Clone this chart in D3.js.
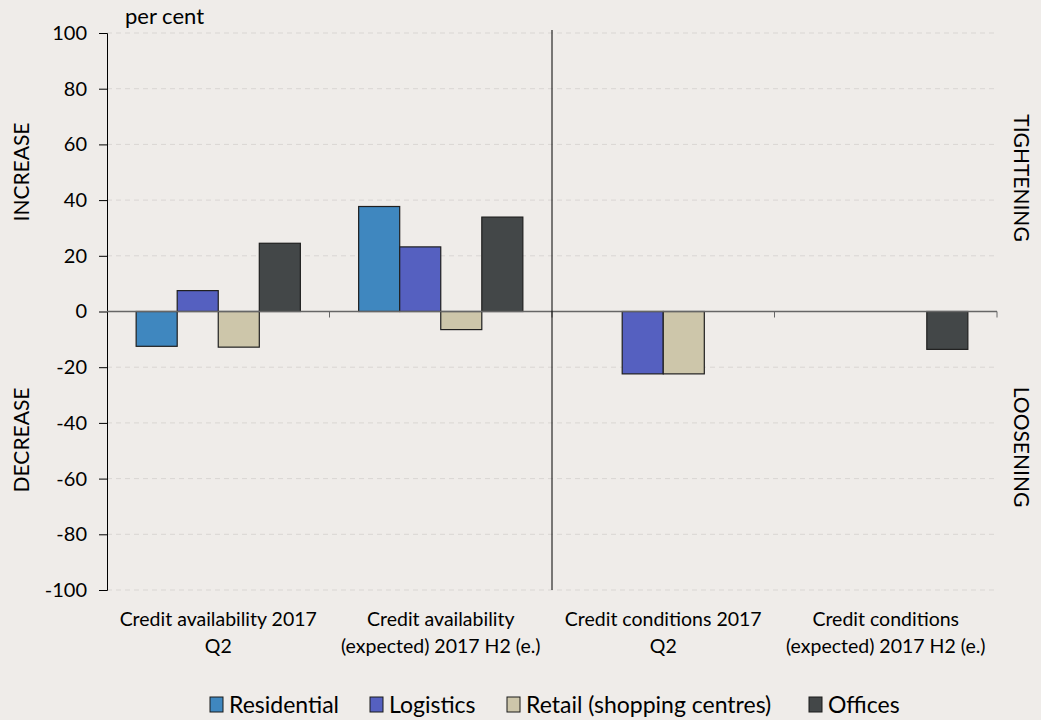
<!DOCTYPE html>
<html><head><meta charset="utf-8">
<script src="https://cdn.jsdelivr.net/npm/d3@7"></script>
<style>
body{margin:0;background:#efece9;}
svg{display:block;font-family:Lato,"Open Sans",sans-serif;}
</style></head>
<body><svg id="c" width="1041" height="720"></svg>
<script>
const categories = [["Credit availability 2017","Q2"],["Credit availability","(expected) 2017 H2 (e.)"],["Credit conditions 2017","Q2"],["Credit conditions","(expected) 2017 H2 (e.)"]];
const seriesNames = ["Residential","Logistics","Retail (shopping centres)","Offices"];
const residential = [-12.5, 37.7, 0, 0];
const logistics = [7.5, 23.2, -22.4, 0];
const retail = [-12.8, -6.5, -22.4, 0];
const offices = [24.5, 33.9, 0, -13.6];
const yTicks = [-100,-80,-60,-40,-20,0,20,40,60,80,100];
const colors = ["#3f87bf","#5560c0","#cdc6aa","#434748"];

const seriesVals = [residential, logistics, retail, offices];
const svg = d3.select("#c");
const L=107, R=997, T=33, B=590;
const y = d3.scaleLinear().domain([-100,100]).range([B,T]);
const x0 = d3.scaleBand().domain(d3.range(categories.length)).range([L,R]).paddingInner(0).paddingOuter(0);
const x1 = d3.scaleBand().domain(d3.range(seriesNames.length)).range([0,x0.bandwidth()]).paddingOuter(0.71).paddingInner(0);

// gridlines
svg.append("g").selectAll("line").data(yTicks.filter(d=>d!==0)).join("line")
  .attr("x1",L).attr("x2",R).attr("y1",d=>y(d)).attr("y2",d=>y(d))
  .attr("stroke","#d9d6d3").attr("stroke-dasharray","5,4").attr("stroke-width",1);

// y axis
const yAxis = d3.axisLeft(y).tickValues(yTicks).tickSize(8).tickPadding(12).tickFormat(d=>String(d));
const ga = svg.append("g").attr("transform",`translate(${L},0)`).call(yAxis);
ga.select(".domain").attr("stroke","#000");
ga.selectAll(".tick line").attr("stroke","#000");
ga.selectAll("text").attr("font-size",20).attr("fill","#000").attr("font-family","Lato,'Open Sans',sans-serif");

// bars
const g = svg.append("g");
categories.forEach((c,ci)=>{
  seriesVals.forEach((vals,si)=>{
    const v = vals[ci];
    if(v===0) return;
    g.append("rect")
      .attr("x",x0(ci)+x1(si)).attr("width",x1.bandwidth())
      .attr("y",y(Math.max(0,v))).attr("height",Math.abs(y(v)-y(0)))
      .attr("fill",colors[si]).attr("stroke","#1f1f1f").attr("stroke-width",1.2);
  });
});

// zero axis
svg.append("line").attr("x1",L).attr("x2",R).attr("y1",y(0)).attr("y2",y(0)).attr("stroke","#666").attr("stroke-width",1.3);
svg.append("g").selectAll("line").data(d3.range(1,categories.length+1)).join("line")
  .attr("x1",d=>x0.step()*d+L).attr("x2",d=>x0.step()*d+L)
  .attr("y1",y(0)).attr("y2",y(0)+6).attr("stroke","#666");

// divider
svg.append("line").attr("x1",x0(2)).attr("x2",x0(2)).attr("y1",30).attr("y2",B).attr("stroke","#000").attr("stroke-width",1);

// category labels
categories.forEach((c,ci)=>{
  const cx = x0(ci)+x0.bandwidth()/2;
  c.forEach((line,li)=>{
    svg.append("text").attr("x",cx).attr("y",626+li*27).attr("text-anchor","middle")
      .attr("font-size",19.5).attr("fill","#000").text(line);
  });
});

// texts
svg.append("text").attr("x",125).attr("y",24).attr("font-size",22).text("per cent");
svg.append("text").attr("transform","translate(29,172) rotate(-90)").attr("text-anchor","middle").attr("font-size",21).text("INCREASE");
svg.append("text").attr("transform","translate(29,440) rotate(-90)").attr("text-anchor","middle").attr("font-size",21).text("DECREASE");
svg.append("text").attr("transform","translate(1014,178) rotate(90)").attr("text-anchor","middle").attr("font-size",21).text("TIGHTENING");
svg.append("text").attr("transform","translate(1014,447) rotate(90)").attr("text-anchor","middle").attr("font-size",21).text("LOOSENING");

// legend
const legX = [210, 370, 507, 809];
const lg = svg.append("g");
seriesNames.forEach((n,i)=>{
  lg.append("rect").attr("x",legX[i]).attr("y",697).attr("width",13).attr("height",15)
    .attr("fill",colors[i]).attr("stroke","#1a1a1a");
  lg.append("text").attr("x",legX[i]+19).attr("y",713).attr("font-size",23).text(n);
});
</script></body></html>
